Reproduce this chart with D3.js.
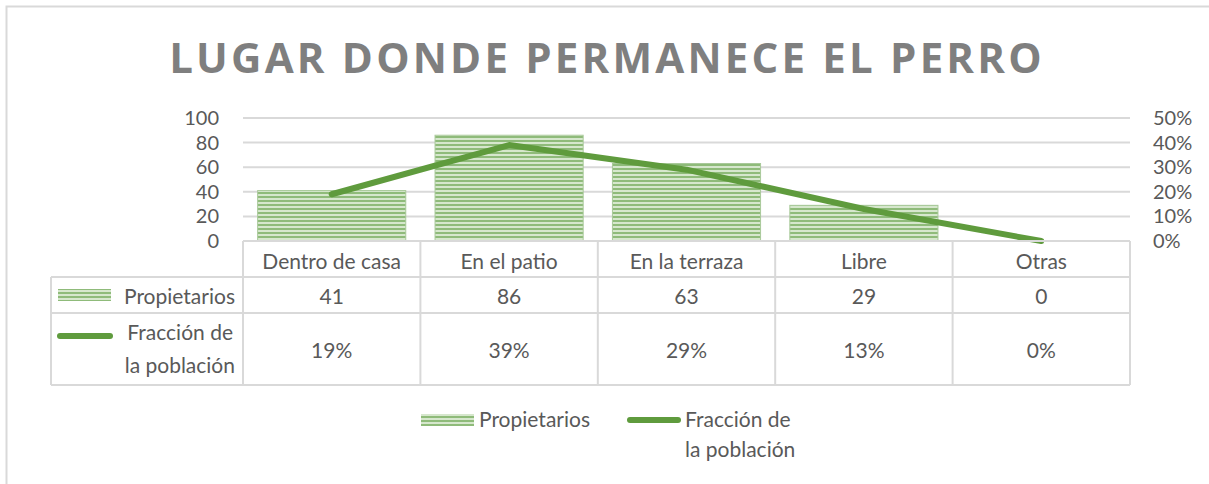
<!DOCTYPE html>
<html>
<head>
<meta charset="utf-8">
<script src="https://cdn.jsdelivr.net/npm/d3@7"></script>
<style>
  body { margin: 0; background: #fff; }
  svg text { font-family: Lato, "Open Sans", sans-serif; fill: #595959; }
</style>
</head>
<body>
<svg id="chart" width="1209" height="484"></svg>
<script>
// data
const categories = ["Dentro de casa", "En el patio", "En la terraza", "Libre", "Otras"];
const owners = [41, 86, 63, 29, 0];
const fraction = [0.19, 0.39, 0.29, 0.13, 0];
const leftTicks = [0, 20, 40, 60, 80, 100];
const rightTicks = [0, 0.1, 0.2, 0.3, 0.4, 0.5];

const svg = d3.select("#chart");
const green = "#5f9b3d";
const gridColor = "#d9d9d9";
const fs = "21px";

// bar stripe pattern
const defs = svg.append("defs");
const pat = defs.append("pattern")
    .attr("id", "stripes")
    .attr("patternUnits", "userSpaceOnUse")
    .attr("width", 8).attr("height", 4);
pat.append("rect").attr("width", 8).attr("height", 4).attr("fill", "#d6e7cd");
pat.append("rect").attr("y", 0).attr("width", 8).attr("height", 2).attr("fill", "#8fbb7a");

// chart border
svg.append("rect")
    .attr("x", 6.5).attr("y", 6.5)
    .attr("width", 1220).attr("height", 500)
    .attr("fill", "none").attr("stroke", gridColor).attr("stroke-width", 2);

// title
svg.append("text")
    .attr("x", 607).attr("y", 73)
    .attr("text-anchor", "middle")
    .style("font-family", "'Open Sans', sans-serif")
    .style("font-weight", "bold")
    .style("font-size", "42px")
    .style("letter-spacing", "3.2px")
    .style("fill", "#7f7f7f")
    .text("LUGAR DONDE PERMANECE EL PERRO");

// scales
const x = d3.scaleBand().domain(categories).range([243, 1130]).paddingInner(0.165).paddingOuter(0.0825);
const xc = d3.scaleBand().domain(categories).range([243, 1130]);
const y = d3.scaleLinear().domain([0, 100]).range([241, 118]);
const y2 = d3.scaleLinear().domain([0, 0.5]).range([241, 118]);

// gridlines
svg.append("g").selectAll("line")
    .data(leftTicks.slice(1))
    .join("line")
    .attr("x1", 243).attr("x2", 1130)
    .attr("y1", d => y(d)).attr("y2", d => y(d))
    .attr("stroke", gridColor).attr("stroke-width", 2);

// left axis
const yAxis = svg.append("g")
    .attr("transform", "translate(219,0)")
    .call(d3.axisLeft(y).tickValues(leftTicks).tickSize(0).tickPadding(0));
yAxis.select(".domain").remove();
yAxis.selectAll("text").style("font-size", "20px").style("fill", "#595959").attr("dy", "0.32em");

// right axis
const y2Axis = svg.append("g")
    .attr("transform", "translate(1153,0)")
    .call(d3.axisRight(y2).tickValues(rightTicks).tickSize(0).tickPadding(0).tickFormat(d3.format(".0%")));
y2Axis.select(".domain").remove();
y2Axis.selectAll("text").style("font-size", "20px").style("fill", "#595959").attr("dy", "0.32em");

// bars
svg.append("g").selectAll("rect")
    .data(owners)
    .join("rect")
    .attr("x", (d, i) => x(categories[i]))
    .attr("width", x.bandwidth())
    .attr("y", d => y(d))
    .attr("height", d => y(0) - y(d))
    .attr("fill", "url(#stripes)")
    .attr("stroke", "#a9c99a").attr("stroke-width", 1);

// line
const line = d3.line()
    .x((d, i) => xc(categories[i]) + xc.bandwidth() / 2)
    .y(d => y2(d));
svg.append("path")
    .datum(fraction)
    .attr("d", line)
    .attr("fill", "none")
    .attr("stroke", green)
    .attr("stroke-width", 6)
    .attr("stroke-linecap", "round")
    .attr("stroke-linejoin", "round");

// data table
const tbl = svg.append("g");
const rowY = [241, 277, 313, 385];
const leftX = 51;
const tline = (x1, y1, x2, y2) => tbl.append("line")
    .attr("x1", x1).attr("y1", y1).attr("x2", x2).attr("y2", y2)
    .attr("stroke", gridColor).attr("stroke-width", 2);

tline(243, rowY[0], 1130, rowY[0]);
tline(leftX, rowY[1], 1130, rowY[1]);
tline(leftX, rowY[2], 1130, rowY[2]);
tline(leftX, rowY[3], 1130, rowY[3]);
tline(leftX, rowY[1], leftX, rowY[3]);
categories.forEach(c => tline(xc(c), rowY[0], xc(c), rowY[3]));
tline(1130, rowY[0], 1130, rowY[3]);

const cellText = (txt, cx, cy) => tbl.append("text")
    .attr("x", cx).attr("y", cy)
    .attr("text-anchor", "middle").attr("dy", "0.35em")
    .style("font-size", fs)
    .text(txt);

categories.forEach((c, i) => {
    const cx = xc(c) + xc.bandwidth() / 2;
    cellText(c, cx, 262);
    cellText(owners[i], cx, 297);
    cellText(d3.format(".0%")(fraction[i]), cx, 351);
});

// row headers with legend keys
tbl.append("rect").attr("x", 58).attr("y", 289).attr("width", 53).attr("height", 12)
    .attr("fill", "url(#stripes)");
tbl.append("text").attr("x", 235).attr("y", 297).attr("dy", "0.35em")
    .attr("text-anchor", "end").style("font-size", fs).text("Propietarios");
tbl.append("line").attr("x1", 60).attr("x2", 110).attr("y1", 336).attr("y2", 336)
    .attr("stroke", green).attr("stroke-width", 6).attr("stroke-linecap", "round");
tbl.append("text").attr("x", 233).attr("y", 333).attr("dy", "0.35em")
    .attr("text-anchor", "end").style("font-size", fs).text("Fracción de");
tbl.append("text").attr("x", 235).attr("y", 366).attr("dy", "0.35em")
    .attr("text-anchor", "end").style("font-size", fs).text("la población");

// legend
const lg = svg.append("g");
lg.append("rect").attr("x", 421).attr("y", 414).attr("width", 53).attr("height", 12)
    .attr("fill", "url(#stripes)");
lg.append("text").attr("x", 479).attr("y", 420).attr("dy", "0.35em")
    .style("font-size", fs).text("Propietarios");
lg.append("line").attr("x1", 630).attr("x2", 678).attr("y1", 420).attr("y2", 420)
    .attr("stroke", green).attr("stroke-width", 6).attr("stroke-linecap", "round");
lg.append("text").attr("x", 685).attr("y", 420).attr("dy", "0.35em")
    .style("font-size", fs).text("Fracción de");
lg.append("text").attr("x", 685).attr("y", 450).attr("dy", "0.35em")
    .style("font-size", fs).text("la población");
</script>
</body>
</html>
